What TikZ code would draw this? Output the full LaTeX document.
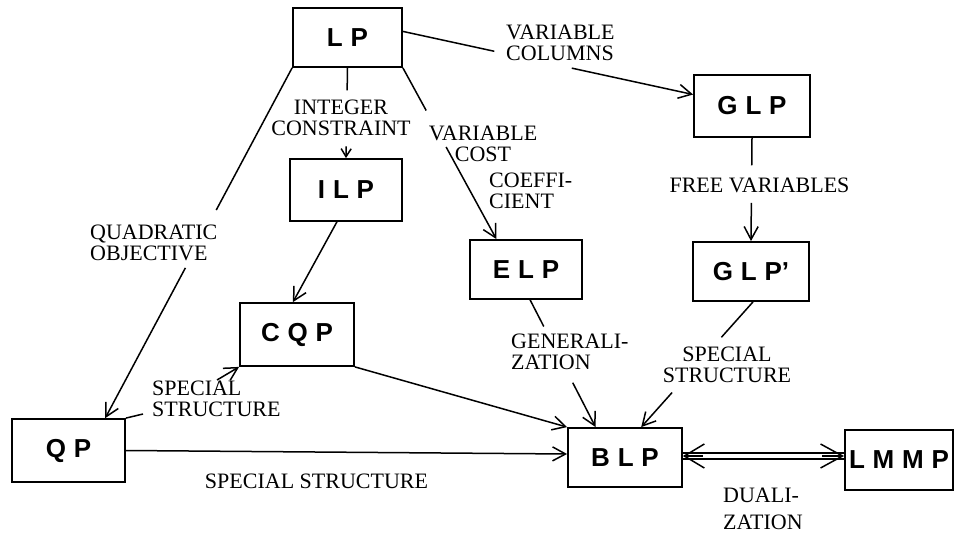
\documentclass[tikz,border=0pt]{standalone}
\usepackage{fontspec}
\setmainfont{Liberation Serif}
\newfontfamily\boxfont{Liberation Sans}
\usetikzlibrary{arrows.meta,calc}
\newcommand\lsp{\hspace{0.3em}}
\begin{document}
\begin{tikzpicture}[x=1pt,y=-1pt,
 box/.style={draw, line width=1.8pt, inner sep=0pt, font=\boxfont\bfseries\fontsize{26}{26}\selectfont},
 lbl/.style={inner sep=0pt, font=\fontsize{22}{21}\selectfont},
 conn/.style={line width=1.5pt},
 arr/.style={conn, -{Straight Barb[length=13pt,width=14pt]}},
]
\useasboundingbox (0,0) rectangle (955,534);

% boxes
\node[box, minimum width=109pt, minimum height=59pt] (lp) at (347.5,37.5) {L\lsp P};
\node[box, minimum width=112pt, minimum height=62pt] (ilp) at (346,190) {I\lsp L\lsp P};
\node[box, minimum width=116pt, minimum height=62pt] (glp) at (752,106) {G\lsp L\lsp P};
\node[box, minimum width=116pt, minimum height=59pt] (glpp) at (751,271.5) {G\lsp L\lsp P’};
\node[box, minimum width=112pt, minimum height=59pt] (elp) at (526,269.5) {E\lsp L\lsp P};
\node[box, minimum width=114pt, minimum height=63pt] (cqp) at (297,334.5) {C\lsp Q\lsp P};
\node[box, minimum width=113pt, minimum height=63pt] (qp) at (68.5,450.5) {Q\lsp P};
\node[box, minimum width=114pt, minimum height=59pt] (blp) at (625,457.5) {B\lsp L\lsp P};
\node[box, minimum width=108pt, minimum height=60pt] (lmmp) at (899,460) {L\lsp M\lsp M\lsp P};

% LP -> QP
\coordinate (qpT) at ($(qp.north west)!0.82!(qp.north east)$);
\path (lp.south west) -- (qpT) coordinate[pos=0.406] (qa) coordinate[pos=0.571] (qb);
\draw[conn] (lp.south west) -- (qa);
\draw[arr] (qb) -- (qpT);
\node[lbl, anchor=west, align=left] (lq) at (90,242.5) {QUADRATIC\\OBJECTIVE};

% LP -> ILP
\path (lp.south) -- (ilp.north) coordinate[pos=0.25] (ia) coordinate[pos=0.87] (ib);
\draw[conn] (lp.south) -- (ia);
\draw[conn, -{Straight Barb[length=8pt,width=10pt]}] (ib) -- (ilp.north);
\node[lbl, align=center] (li) at (341,117.5) {INTEGER\\CONSTRAINT};

% ILP -> CQP
\draw[arr] ($(ilp.south west)!0.42!(ilp.south east)$) -- ($(cqp.north west)!0.465!(cqp.north east)$);

% LP -> ELP
\coordinate (elT) at ($(elp.north west)!0.24!(elp.north east)$);
\path (lp.south east) -- (elT) coordinate[pos=0.249] (ea) coordinate[pos=0.462] (eb);
\draw[conn] (lp.south east) -- (ea);
\draw[arr] (eb) -- (elT);
\node[lbl, align=center] (lv) at (483,143.5) {VARIABLE\\COST};
\node[lbl, anchor=west, align=left] (lc) at (489,190.5) {COEFFI-\\CIENT};

% LP -> GLP
\coordinate (lpE) at ($(lp.north east)!0.4!(lp.south east)$);
\coordinate (glW) at ($(glp.north west)!0.32!(glp.south west)$);
\path (lpE) -- (glW) coordinate[pos=0.315] (ga) coordinate[pos=0.582] (gb);
\draw[conn] (lpE) -- (ga);
\draw[arr] (gb) -- (glW);
\node[lbl, anchor=west, align=left] (lcol) at (506,43) {VARIABLE\\COLUMNS};

% GLP -> GLP'
\path (glp.south) -- (glpp.north) coordinate[pos=0.267] (fa) coordinate[pos=0.629] (fb);
\draw[conn] (glp.south) -- (fa);
\draw[arr] (fb) -- (glpp.north);
\node[lbl] (lf) at (759.5,185) {FREE VARIABLES};

% GLP' -> BLP
\coordinate (gpS) at ($(glpp.south west)!0.517!(glpp.south east)$);
\coordinate (blTa) at ($(blp.north west)!0.64!(blp.north east)$);
\path (gpS) -- (blTa) coordinate[pos=0.283] (sa) coordinate[pos=0.724] (sb);
\draw[conn] (gpS) -- (sa);
\draw[arr] (sb) -- (blTa);
\node[lbl, align=center] (ls) at (727,365) {SPECIAL\\STRUCTURE};

% ELP -> BLP
\coordinate (elS) at ($(elp.south west)!0.536!(elp.south east)$);
\coordinate (blTb) at ($(blp.north west)!0.246!(blp.north east)$);
\path (elS) -- (blTb) coordinate[pos=0.209] (za) coordinate[pos=0.651] (zb);
\draw[conn] (elS) -- (za);
\draw[arr] (zb) -- (blTb);
\node[lbl, anchor=west, align=left] (lg) at (511,352) {GENERALI-\\ZATION};

% CQP -> BLP
\draw[arr] (cqp.south east) -- (blp.north west);

% QP -> BLP
\draw[arr] (qp.east) -- ([yshift=3.5pt]blp.west);
\node[lbl] (lss) at (316.5,481) {SPECIAL STRUCTURE};

% QP -> CQP
\coordinate (ca) at (143,414);
\coordinate (cb) at (217,380);
\draw[conn] (qp.north east) -- (ca);
\draw[arr] (cb) -- (cqp.south west);
\node[lbl, anchor=west, align=left] (lqs) at (152,399) {SPECIAL\\STRUCTURE};

% BLP <-> LMMP
\coordinate (da) at ([yshift=4.5pt]blp.east);
\coordinate (db) at (da -| lmmp.west);
\coordinate (dc) at ([yshift=-1.5pt]blp.east);
\coordinate (dd) at (dc -| lmmp.west);
\coordinate (dm) at ([yshift=1.5pt]blp.east);
\coordinate (dn) at (dm -| lmmp.west);
\draw[line width=1.3pt] (da) -- (db);
\draw[line width=1.3pt] (dc) -- (dd);
\draw[conn, -{Straight Barb[length=20pt,width=24pt]}] ([xshift=20pt]dm) -- (dm);
\draw[conn, -{Straight Barb[length=22pt,width=24pt]}] ([xshift=-22pt]dn) -- (dn);
\node[lbl, anchor=west, align=left] (ld) at (723,509) {DUALI-\\[6pt]ZATION};
\end{tikzpicture}
\end{document}
